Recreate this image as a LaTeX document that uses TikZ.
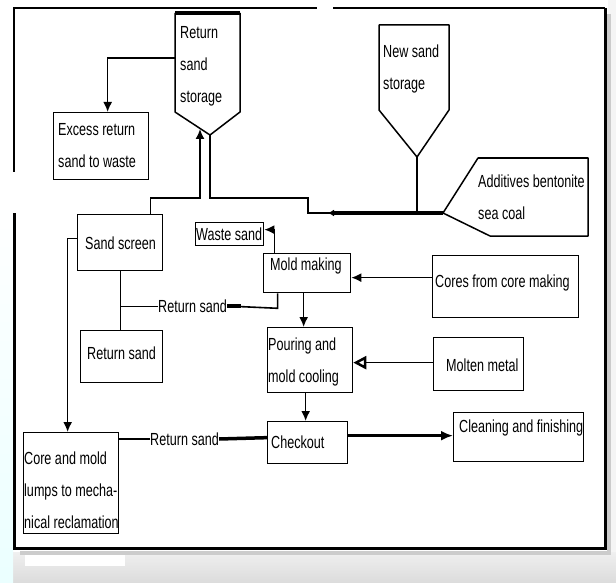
\documentclass[tikz,border=0pt]{standalone}
\usepackage{fontspec}
\setmainfont[FakeStretch=0.72]{Liberation Sans}
\usetikzlibrary{arrows.meta}
\newcommand{\dgfont}{\fontsize{17.5}{32}\selectfont}
\begin{document}
\begin{tikzpicture}[x=1pt,y=-1pt,
  box/.style={draw, line width=1.3pt, inner sep=0pt, anchor=north west},
  txt/.style={font=\dgfont, align=left, inner sep=0pt, anchor=west},
  ln/.style={line width=1.6pt},
  tln/.style={line width=1pt},
  thk/.style={line width=3.5pt},
  arr/.style={ln, -{Latex[length=10pt,width=9pt]}},
  openarr/.style={ln, -{Triangle[open,length=13pt,width=13pt,line width=2.5pt]}},
  hop/.style={line width=1.5pt, line join=round}]
\useasboundingbox (0,0) rectangle (616,583);
% background
\fill[white] (0,0) rectangle (616,583);
\shade[top color=gray!12, bottom color=gray!28] (0,552) rectangle (616,583);
\fill[gray!8] (608,0) rectangle (616,552);
\shade[top color=white, bottom color=cyan!8] (0,200) rectangle (13,583);
\fill[white] (25,548) rectangle (125,566);
% frame shadow
\draw[line width=4pt, gray!40] (609,14) -- (609,553) -- (20,553);
\draw[line width=1.5pt] (14,172) -- (14,8) -- (317,8);
\draw[line width=1.5pt] (333,8) -- (605,8);
\draw[line width=3pt] (605,8) -- (605,548) -- (14,548) -- (14,213);

% hoppers and additive bin
\draw[hop] (175,13) -- (175,112) -- (210,135) coordinate (rsstip) -- (240,112) -- (240,13);
\draw[line width=3.5pt] (175,13) -- (240,13);
\coordinate (rssl) at (175,58);
\coordinate (rssin) at (200,129);
\node[txt] (rsst) at (180,66.5) {Return\\sand\\storage};

\draw[hop] (379,25) -- (379,110) -- (417,157) coordinate (nstip) -- (449,110) -- (449,25) -- cycle;
\node[txt] (nst) at (383,68.5) {New sand\\storage};

\draw[hop] (443,213) coordinate (addw) -- (478,158) -- (588,158) -- (588,236) -- (490,236) -- cycle;
\draw[line width=2.5pt] (478,158) -- (588,158);
\node[txt] (addt) at (478,197) {Additives bentonite\\sea coal};

% boxes
\node[box, minimum width=95pt, minimum height=67pt] (exc) at (53,112) {};
\node[txt] (exct) at (58,146) {Excess return\\sand to waste};
\node[box, minimum width=85pt, minimum height=56pt] (ss) at (77,214) {};
\node[txt] (sst) at (85,243) {Sand screen};
\node[box, minimum width=82pt, minimum height=52pt] (rsb) at (80,330) {};
\node[txt] (rsbt) at (87,353) {Return sand};
\node[box, minimum width=68pt, minimum height=23pt] (ws) at (195,222) {};
\node[txt] (wst) at (196,234) {Waste sand};
\node[box, minimum width=87pt, minimum height=39pt] (mm) at (263,253) {};
\node[txt] (mmt) at (270,266) {Mold making};
\node[box, minimum width=146pt, minimum height=62pt] (cores) at (432,255) {};
\node[txt] (corest) at (435,283) {Cores from core making};
\node[box, minimum width=85pt, minimum height=65pt] (pour) at (267,327) {};
\node[txt] (pourt) at (268,361.5) {Pouring and\\mold cooling};
\node[box, minimum width=90pt, minimum height=53pt] (molten) at (433,337) {};
\node[txt] (moltent) at (446,365) {Molten metal};
\node[box, minimum width=80pt, minimum height=42pt] (chk) at (267,421) {};
\node[txt] (chkt) at (271,442) {Checkout};
\node[box, minimum width=130pt, minimum height=49pt] (clean) at (453,412) {};
\node[txt] (cleant) at (459,428) {Cleaning and finishing};
\node[box, minimum width=95pt, minimum height=101pt] (core) at (23,432) {};
\node[txt] (coret) at (24,490) {Core and mold\\lumps to mecha-\\nical reclamation};

% connector labels
\node[txt] (rs1) at (158,306) {Return sand};
\node[txt] (rs2) at (150,439) {Return sand};

% connectors
\draw[arr] (rssl) -| ([xshift=6.5pt]exc.north);
\draw[arr] ([xshift=30.5pt]ss.north) -- ++(0,-16) -| (rssin);
\draw[ln] (addw) -- (308,213) -- (308,198) -| (rsstip);
\draw[thk, -{Latex[length=6pt,width=7pt]}] (addw) -- (328,213);
\draw[ln] (nstip) -- (nstip |- addw);
\draw[arr] ([xshift=-32.5pt]mm.north) |- ([yshift=4.5pt]ws.east);
\draw[ln] ([xshift=-29.5pt]mm.south) -- ++(0,15) -- (rs1.east);
\draw[thk] (rs1.east) -- ++(14,0);
\draw[tln] (ss.south) -- (ss.south |- rsb.north);
\draw[tln] (rs1.west) -- (rs1.west -| ss.south);
\draw[arr] ([yshift=9pt]cores.west) -- ([yshift=9pt]cores.west -| mm.east);
\draw[arr] ([xshift=-3.5pt]mm.south) -- ([xshift=-3.5pt]mm.south |- pour.north);
\draw[openarr] ([yshift=1.5pt]molten.west) -- ([yshift=1.5pt]molten.west -| pour.east);
\draw[arr] ([xshift=-4.5pt]pour.south) -- ([xshift=-4.5pt]pour.south |- chk.north);
\draw[thk, -{Latex[length=12pt,width=10pt]}] ([yshift=7pt]chk.east) -- ([yshift=7pt]chk.east -| clean.west);
\draw[thk] ([yshift=5pt]chk.west) -- (rs2.east);
\draw[ln] (rs2.west) -- (rs2.west -| core.east);
\draw[arr] ([yshift=4pt]ss.west) -| ([xshift=-3.5pt]core.north);
\end{tikzpicture}
\end{document}
